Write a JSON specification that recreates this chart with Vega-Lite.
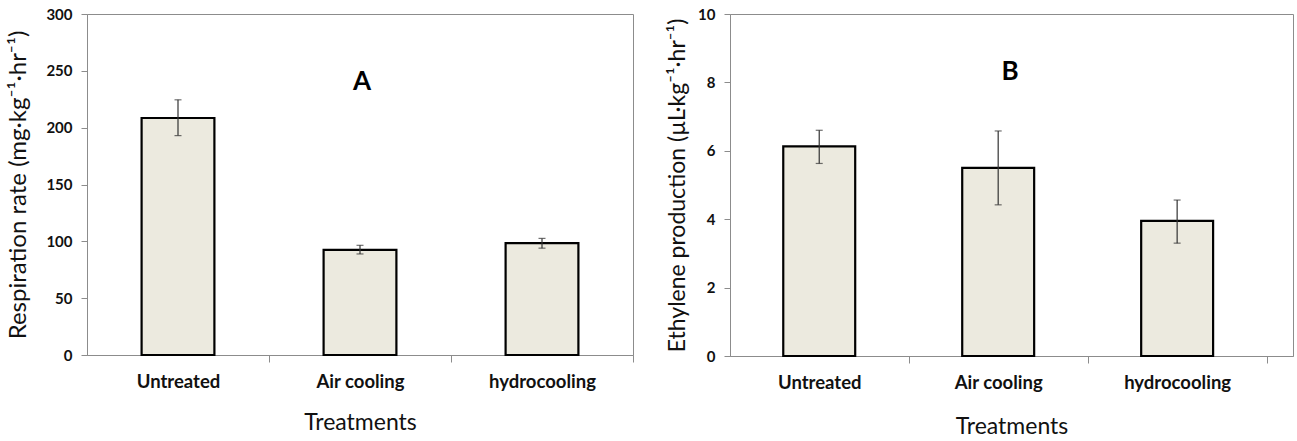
{
  "$schema": "https://vega.github.io/schema/vega-lite/v6.json",
  "background": "white",
  "padding": {"left": 6, "top": 6, "right": 2, "bottom": 2},
  "spacing": 32,
  "config": {
    "font": "Lato",
    "view": {"stroke": "#8c8c8c", "strokeWidth": 1},
    "axis": {
      "grid": false,
      "domainColor": "#8c8c8c",
      "tickColor": "#8c8c8c",
      "labelFont": "Lato",
      "labelFontWeight": "bold",
      "labelColor": "#111111",
      "titleFont": "Lato",
      "titleFontWeight": "normal",
      "titleColor": "#111111"
    }
  },
  "hconcat": [
    {
      "width": 546,
      "height": 341,
      "data": {"values": [
        {"treatment": "Untreated", "mean": 208.5, "lo": 193, "hi": 224.5},
        {"treatment": "Air cooling", "mean": 92.5, "lo": 88.9, "hi": 96.5},
        {"treatment": "hydrocooling", "mean": 98.5, "lo": 94, "hi": 102.6}
      ]},
      "encoding": {
        "x": {
          "field": "treatment", "type": "nominal", "sort": null,
          "scale": {"paddingInner": 0.6, "paddingOuter": 0.3},
          "axis": {
            "title": "Treatments", "titleFontSize": 23, "titlePadding": 21,
            "labelAngle": 0, "labelFontSize": 18.5, "labelPadding": 10,
            "tickSize": 7, "tickOffset": 91, "labelOffset": -91
          }
        }
      },
      "layer": [
        {
          "mark": {"type": "bar", "fill": "#ECEADF", "stroke": "#000000", "strokeWidth": 2.2},
          "encoding": {
            "y": {
              "field": "mean", "type": "quantitative",
              "scale": {"domain": [0, 300], "nice": false},
              "axis": {
                "title": "Respiration rate (mg·kg⁻¹·hr⁻¹)", "titleFontSize": 24, "titlePadding": 15,
                "values": [0, 50, 100, 150, 200, 250, 300],
                "labelFontSize": 15, "tickSize": 6, "labelPadding": 9
              }
            }
          }
        },
        {
          "mark": {"type": "rule", "color": "#333333", "strokeWidth": 1.2},
          "encoding": {
            "y": {"field": "lo", "type": "quantitative"},
            "y2": {"field": "hi"}
          }
        },
        {
          "mark": {"type": "tick", "color": "#333333", "size": 7, "thickness": 1.2},
          "encoding": {"y": {"field": "lo", "type": "quantitative"}}
        },
        {
          "mark": {"type": "tick", "color": "#333333", "size": 7, "thickness": 1.2},
          "encoding": {"y": {"field": "hi", "type": "quantitative"}}
        },
        {
          "data": {"values": [{"treatment": "Air cooling", "panel": "A", "ypos": 240}]},
          "mark": {"type": "text", "fontSize": 26, "fontWeight": "bold", "color": "#000000", "dx": 2},
          "encoding": {
            "y": {"field": "ypos", "type": "quantitative"},
            "text": {"field": "panel"}
          }
        }
      ]
    },
    {
      "width": 563,
      "height": 342,
      "data": {"values": [
        {"treatment": "Untreated", "mean": 6.13, "lo": 5.63, "hi": 6.6},
        {"treatment": "Air cooling", "mean": 5.5, "lo": 4.42, "hi": 6.58},
        {"treatment": "hydrocooling", "mean": 3.95, "lo": 3.3, "hi": 4.56}
      ]},
      "encoding": {
        "x": {
          "field": "treatment", "type": "nominal", "sort": null,
          "scale": {"paddingInner": 0.598, "paddingOuter": 0.372, "align": 0.4},
          "axis": {
            "title": "Treatments", "titleFontSize": 23, "titlePadding": 24,
            "labelAngle": 0, "labelFontSize": 18.5, "labelPadding": 10,
            "tickSize": 7, "tickOffset": 89.5, "labelOffset": -89.5
          }
        }
      },
      "layer": [
        {
          "mark": {"type": "bar", "fill": "#ECEADF", "stroke": "#000000", "strokeWidth": 2.2},
          "encoding": {
            "y": {
              "field": "mean", "type": "quantitative",
              "scale": {"domain": [0, 10], "nice": false},
              "axis": {
                "title": "Ethylene production (µL·kg⁻¹·hr⁻¹)", "titleFontSize": 23, "titlePadding": 8,
                "values": [0, 2, 4, 6, 8, 10],
                "labelFontSize": 15, "tickSize": 6, "labelPadding": 9
              }
            }
          }
        },
        {
          "mark": {"type": "rule", "color": "#333333", "strokeWidth": 1.2},
          "encoding": {
            "y": {"field": "lo", "type": "quantitative"},
            "y2": {"field": "hi"}
          }
        },
        {
          "mark": {"type": "tick", "color": "#333333", "size": 7, "thickness": 1.2},
          "encoding": {"y": {"field": "lo", "type": "quantitative"}}
        },
        {
          "mark": {"type": "tick", "color": "#333333", "size": 7, "thickness": 1.2},
          "encoding": {"y": {"field": "hi", "type": "quantitative"}}
        },
        {
          "data": {"values": [{"treatment": "Air cooling", "panel": "B", "ypos": 8.3}]},
          "mark": {"type": "text", "fontSize": 26, "fontWeight": "bold", "color": "#000000", "dx": 12},
          "encoding": {
            "y": {"field": "ypos", "type": "quantitative"},
            "text": {"field": "panel"}
          }
        }
      ]
    }
  ]
}
